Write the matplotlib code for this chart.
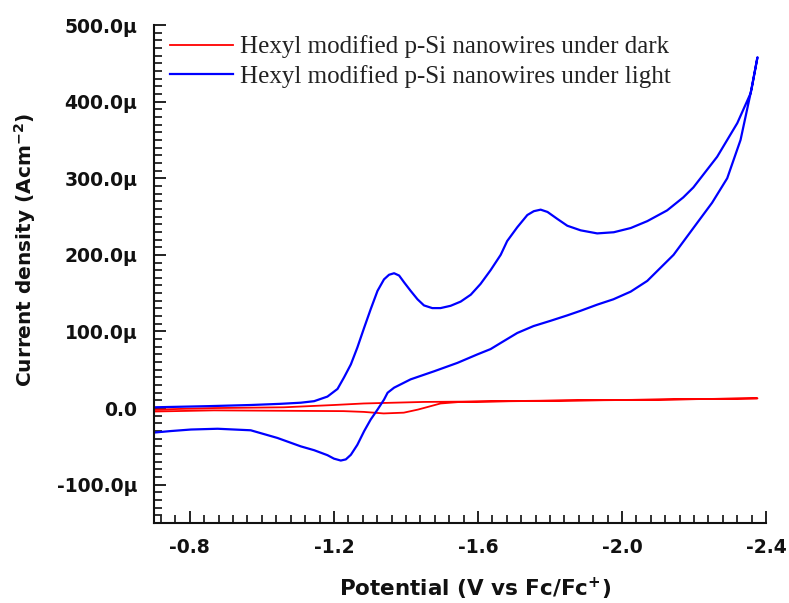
import matplotlib
matplotlib.use("Agg")
import matplotlib.pyplot as plt
from matplotlib.ticker import FuncFormatter, FixedLocator, NullFormatter

# Cyclic voltammograms: potential (V vs Fc/Fc+) and current density (µA cm^-2)
# Light: forward sweep then return sweep
light_fwd_v = [-0.700, -0.850, -0.969, -1.050, -1.108, -1.145, -1.182, -1.210,
               -1.228, -1.247, -1.265, -1.284, -1.302, -1.321, -1.339, -1.353,
               -1.367, -1.381, -1.395, -1.413, -1.432, -1.450, -1.473, -1.496,
               -1.524, -1.552, -1.580, -1.607, -1.635, -1.663, -1.681, -1.709,
               -1.737, -1.755, -1.774, -1.793, -1.820, -1.848, -1.885, -1.931,
               -1.977, -2.024, -2.070, -2.125, -2.170, -2.198, -2.264, -2.320,
               -2.357, -2.376]
light_fwd_i = [1, 2.5, 4, 5.5, 7, 9, 15, 25,
               40, 57, 79, 105, 129, 153, 168, 174,
               176, 173, 164, 153, 142, 134, 130.5, 130.5,
               133.5, 139, 148, 162, 180, 200, 218, 236,
               252, 257, 259, 256, 247, 238, 232, 228,
               229.5, 235, 244, 258, 275, 288, 328, 372,
               411, 458]

light_rev_v = [-2.376, -2.361, -2.329, -2.292, -2.250, -2.209, -2.143, -2.070,
               -2.024, -1.976, -1.931, -1.885, -1.848, -1.802, -1.754, -1.709,
               -1.663, -1.635, -1.598, -1.543, -1.478, -1.413, -1.367, -1.349,
               -1.339, -1.321, -1.302, -1.284, -1.265, -1.247, -1.233, -1.219,
               -1.200, -1.182, -1.145, -1.108, -1.043, -0.969, -0.877, -0.803,
               -0.747, -0.700]
light_rev_i = [458, 420, 350, 300, 268, 242, 200, 166,
               152, 142, 135, 127, 121, 114, 107, 98,
               85, 77, 70, 59, 48, 37.5, 26.6, 20,
               11, -2, -15, -30, -48, -61, -67, -68.5,
               -66, -61.5, -55, -50, -39, -29, -27, -28,
               -30, -32]

# Dark: forward sweep then return sweep
dark_fwd_v = [-0.700, -0.867, -1.061, -1.200, -1.283, -1.449, -1.580, -1.848, -2.100, -2.376]
dark_fwd_i = [-2, 0, 1, 4, 6, 8, 8.5, 10, 11, 12.7]

dark_rev_v = [-2.376, -2.000, -1.700, -1.550, -1.496, -1.449, -1.433, -1.394,
              -1.338, -1.283, -1.227, -0.867, -0.700]
dark_rev_i = [12.7, 10.5, 9, 8, 6, 0, -2, -6,
              -7, -5, -4, -3, -4.5]

series_labels = ["Hexyl modified p-Si nanowires under dark",
                 "Hexyl modified p-Si nanowires under light"]
series_colors = ["#ff0000", "#0000ff"]

x_ticks = [-0.8, -1.2, -1.6, -2.0, -2.4]
y_ticks = [-100, 0, 100, 200, 300, 400, 500]

fig = plt.figure(figsize=(7.89, 6.03), dpi=100)
ax = fig.add_axes([0.195, 0.1327, 0.776, 0.8258])

dark_v = dark_fwd_v + dark_rev_v[1:]
dark_i = dark_fwd_i + dark_rev_i[1:]
light_v = light_fwd_v + light_rev_v[1:]
light_i = light_fwd_i + light_rev_i[1:]

ax.plot(dark_v, dark_i, color=series_colors[0], lw=1.3, label=series_labels[0])
ax.plot(light_v, light_i, color=series_colors[1], lw=1.6, label=series_labels[1])

ax.set_xlim(-0.7, -2.4)
ax.set_ylim(-150, 500)

# minor divisions: 10 per major interval on both axes
x_minor = [round(-0.72 - 0.04 * k, 2) for k in range(43)]
x_minor = [v for v in x_minor if v >= -2.4 and v not in x_ticks]
y_minor = [v for v in range(-150, 501, 10) if v not in y_ticks]

ax.xaxis.set_major_locator(FixedLocator(x_ticks))
ax.yaxis.set_major_locator(FixedLocator(y_ticks))
ax.xaxis.set_minor_locator(FixedLocator(x_minor))
ax.yaxis.set_minor_locator(FixedLocator(y_minor))
ax.xaxis.set_minor_formatter(NullFormatter())
ax.yaxis.set_minor_formatter(NullFormatter())

ax.xaxis.set_major_formatter(FuncFormatter(lambda v, p: f"{v:.1f}"))
ax.yaxis.set_major_formatter(
    FuncFormatter(lambda v, p: "0.0" if abs(v) < 1e-9 else f"{v:.1f}\u00b5"))

for side in ("top", "right"):
    ax.spines[side].set_visible(False)
for side in ("left", "bottom"):
    ax.spines[side].set_linewidth(1.5)
    ax.spines[side].set_color("#111111")

ax.xaxis.set_tick_params(which="major", direction="in", length=8.5, width=1.3,
                         color="#111111", pad=11, labelsize=13.5)
ax.yaxis.set_tick_params(which="major", direction="in", length=8.5, width=1.3,
                         color="#111111", pad=12, labelsize=13.5)
ax.xaxis.set_tick_params(which="minor", direction="in", length=6, width=1.3,
                         color="#222222")
ax.yaxis.set_tick_params(which="minor", direction="in", length=6, width=1.3,
                         color="#222222")

for lab in ax.get_xticklabels() + ax.get_yticklabels():
    lab.set_fontfamily("DejaVu Sans")
    lab.set_fontweight("bold")
    lab.set_color("#111111")

ax.set_xlabel("Potential (V vs Fc/Fc$^{\\mathbf{+}}$)", fontsize=15.5,
              fontweight="bold", family="DejaVu Sans", color="#111111")
ax.set_ylabel("Current density (Acm$^{\\mathbf{-2}}$)", fontsize=14.5,
              fontweight="bold", family="DejaVu Sans", color="#111111")
ax.xaxis.set_label_coords(0.524, -0.106)
ax.yaxis.set_label_coords(-0.19, 0.548)

leg = ax.legend(loc="upper left", bbox_to_anchor=(170 / 789, 1 - 35.5 / 603),
                bbox_transform=fig.transFigure, frameon=False,
                prop={"family": "Liberation Serif", "size": 18},
                handlelength=2.5, handletextpad=0.32, labelspacing=0.25,
                borderaxespad=0.0, borderpad=0.0)
for t in leg.get_texts():
    t.set_color("#222222")

fig.savefig("out.png", dpi=100)
